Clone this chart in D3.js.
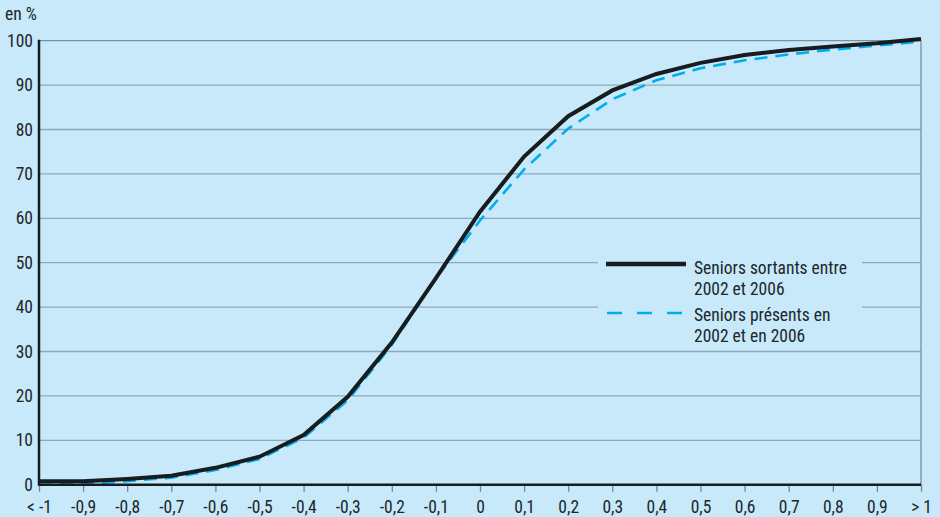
<!DOCTYPE html>
<html><head><meta charset="utf-8">
<script src="https://cdn.jsdelivr.net/npm/d3@7"></script>
<style>
html,body{margin:0;padding:0;background:#c7e9f9;}
svg{display:block;font-family:"Liberation Sans Narrow","Roboto Condensed","Arial Narrow",Roboto,sans-serif;}
</style></head><body>
<script>
const xValues = [-1,-0.9,-0.8,-0.7,-0.6,-0.5,-0.4,-0.3,-0.2,-0.1,0,0.1,0.2,0.3,0.4,0.5,0.6,0.7,0.8,0.9,1];
const xLabels = ["< -1","-0,9","-0,8","-0,7","-0,6","-0,5","-0,4","-0,3","-0,2","-0,1","0","0,1","0,2","0,3","0,4","0,5","0,6","0,7","0,8","0,9","> 1"];
const sortants = [0.8,0.8,1.3,2.0,3.8,6.3,11.2,19.8,32.0,46.5,61.5,73.9,83.0,88.8,92.5,95.0,96.8,97.9,98.7,99.4,100.4];
const presents = [0.0,0.2,0.8,1.6,3.3,5.8,10.6,19.0,31.5,46.5,59.5,71.0,80.2,86.8,91.1,93.8,95.6,96.9,98.0,98.9,99.8];
const yTicks = [0,10,20,30,40,50,60,70,80,90,100];
const legendLabels = [["Seniors sortants entre","2002 et 2006"],["Seniors présents en","2002 et en 2006"]];

const W=940,H=517,FS=17.5;
const svg=d3.select("body").append("svg").attr("width",W).attr("height",H);
svg.append("rect").attr("width",W).attr("height",H).attr("fill","#c7e9f9");
const x=d3.scaleLinear().domain([-1,1]).range([39,921]);
const y=d3.scaleLinear().domain([0,100]).range([484.7,40.7]);

// gridlines
svg.append("g").selectAll("line").data(yTicks.filter(d=>d>0)).join("line")
  .attr("x1",39).attr("x2",921).attr("y1",d=>y(d)).attr("y2",d=>y(d))
  .attr("stroke",d=>d===100?"#7f8f99":"#91a9b7").attr("stroke-width",1.3);
// right border
svg.append("line").attr("x1",921).attr("x2",921).attr("y1",y(100)).attr("y2",y(0)+1)
  .attr("stroke","#7f8f99").attr("stroke-width",1.3);

// legend background (interrupts gridlines)
svg.append("rect").attr("x",598).attr("y",248).attr("width",264).attr("height",98).attr("fill","#c7e9f9");

// y axis labels
svg.append("g").selectAll("text").data(yTicks).join("text")
  .attr("x",33).attr("y",d=>y(d)+6).attr("text-anchor","end")
  .attr("font-size",FS).attr("fill","#20262a").text(d=>d);
svg.append("text").attr("x",5).attr("y",20).attr("font-size",FS).attr("fill","#20262a").text("en %");

// x axis
const xAxis=d3.axisBottom(x).tickValues(xValues).tickSize(7).tickFormat((d,i)=>xLabels[i]);
const gx=svg.append("g").attr("transform",`translate(0,${y(0)})`).call(xAxis);
gx.select(".domain").remove();
gx.selectAll(".tick line").attr("stroke","#6f8796").attr("stroke-width",1.3);
gx.selectAll(".tick text").attr("font-size",FS).attr("fill","#20262a").attr("dy","0").attr("y",28)
  .attr("font-family","'Liberation Sans Narrow','Roboto Condensed',Roboto,sans-serif");

const line=d3.line().x((d,i)=>x(xValues[i])).y(d=>y(d));
svg.append("path").datum(presents).attr("d",line).attr("fill","none")
  .attr("stroke","#00aeef").attr("stroke-width",2.6).attr("stroke-dasharray","13,8");
svg.append("path").datum(sortants).attr("d",line).attr("fill","none")
  .attr("stroke","#161c20").attr("stroke-width",4);

// axis lines
svg.append("line").attr("x1",39).attr("x2",921).attr("y1",y(0)).attr("y2",y(0))
  .attr("stroke","#161c20").attr("stroke-width",2.5);
svg.append("line").attr("x1",39).attr("x2",39).attr("y1",y(100)-1).attr("y2",y(0)+1)
  .attr("stroke","#161c20").attr("stroke-width",2.5);

// legend
const lg=svg.append("g");
lg.append("line").attr("x1",606).attr("x2",686).attr("y1",264).attr("y2",264).attr("stroke","#161c20").attr("stroke-width",4.5);
lg.append("line").attr("x1",607).attr("x2",686).attr("y1",313).attr("y2",313).attr("stroke","#00aeef").attr("stroke-width",2.6).attr("stroke-dasharray","15,15");
legendLabels.forEach((lab,i)=>{
  lab.forEach((t,j)=>{
    lg.append("text").attr("x",694).attr("y",274+i*47+j*21).attr("font-size",FS).attr("fill","#20262a").text(t);
  });
});
</script>
</body></html>
